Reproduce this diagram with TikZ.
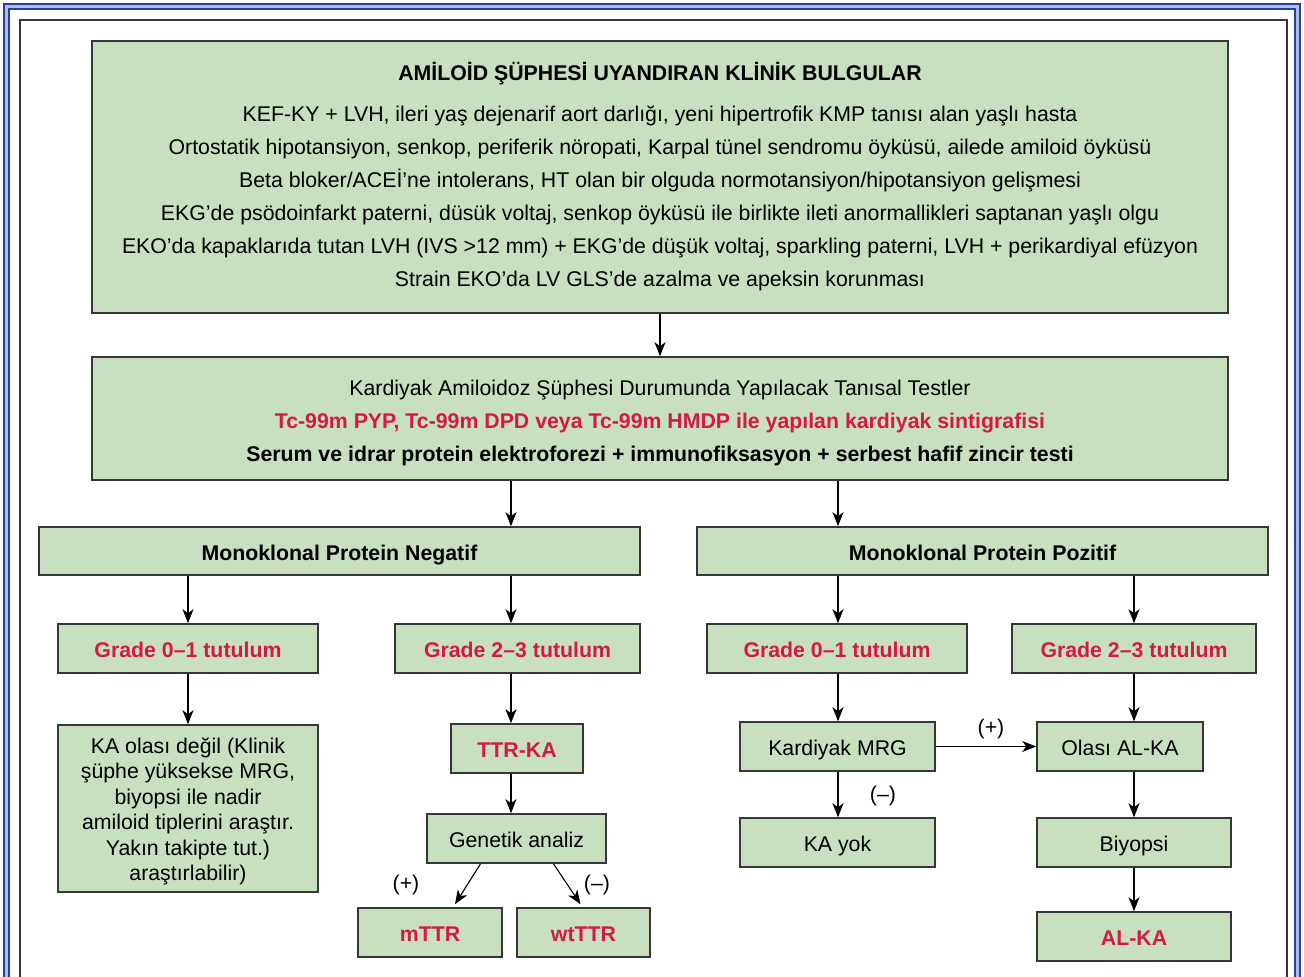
\documentclass[tikz,border=0pt]{standalone}
\usepackage{fontspec}
\setmainfont{Liberation Sans}
\usetikzlibrary{arrows.meta}

\definecolor{boxfill}{RGB}{200,224,192}
\definecolor{boxline}{RGB}{55,55,55}
\definecolor{alert}{RGB}{212,26,66}
\definecolor{frameblue}{RGB}{38,66,150}
\definecolor{framelight}{RGB}{175,192,230}

\tikzset{
  box/.style={draw=boxline, fill=boxfill, line width=1.6pt, inner sep=0pt, align=center,
    font=\fontsize{21.3}{25.4}\selectfont},
  oneline/.style={text height=18pt, text depth=0pt},
  hl/.style={text=alert, font=\fontsize{21.3}{25}\selectfont\bfseries},
  lbl/.style={inner sep=0pt, font=\fontsize{21.3}{25}\selectfont},
  arr/.style={-{Stealth[length=14pt,width=11pt,inset=4pt]}, line width=1.1pt, black}
}

\begin{document}
\begin{tikzpicture}[x=1pt,y=-1pt]
\useasboundingbox (0,0) rectangle (1304,977);
% frame
\draw[framelight, line width=4pt] (6.5,977) -- (6.5,6.5) -- (1297.5,6.5) -- (1297.5,977);
\draw[frameblue, line width=2.2pt] (4,977) -- (4,4) -- (1300,4) -- (1300,977);
\draw[frameblue, line width=1.3pt] (9,977) -- (9,9) -- (1295,9) -- (1295,977);
\draw[boxline, line width=1.3pt] (20,977) -- (20,20) -- (1287,20) -- (1287,977);

\node[box, minimum width=1136pt, minimum height=272pt, font=\fontsize{21.3}{33}\selectfont] (clinic) at (660,177)
  {\rule{0pt}{17.5pt}\textbf{AMİLOİD ŞÜPHESİ UYANDIRAN KLİNİK BULGULAR}\\[8pt]
   KEF-KY + LVH, ileri yaş dejenarif aort darlığı, yeni hipertrofik KMP tanısı alan yaşlı hasta\\
   Ortostatik hipotansiyon, senkop, periferik nöropati, Karpal tünel sendromu öyküsü, ailede amiloid öyküsü\\
   Beta bloker/ACEİ’ne intolerans, HT olan bir olguda normotansiyon/hipotansiyon gelişmesi\\
   EKG’de psödoinfarkt paterni, düsük voltaj, senkop öyküsü ile birlikte ileti anormallikleri saptanan yaşlı olgu\\
   EKO’da kapaklarıda tutan LVH (IVS >12 mm) + EKG’de düşük voltaj, sparkling paterni, LVH + perikardiyal efüzyon\\
   Strain EKO’da LV GLS’de azalma ve apeksin korunması};
\node[box, minimum width=1136pt, minimum height=123pt, font=\fontsize{21.3}{33}\selectfont] (tests) at (660,418.5)
  {\rule{0pt}{23.5pt}Kardiyak Amiloidoz Şüphesi Durumunda Yapılacak Tanısal Testler\\
   \textcolor{alert}{\bfseries Tc-99m PYP, Tc-99m DPD veya Tc-99m HMDP ile yapılan kardiyak sintigrafisi}\\
   \textbf{Serum ve idrar protein elektroforezi + immunofiksasyon + serbest hafif zincir testi}};

\node[box, oneline, minimum width=601pt, minimum height=48pt] (neg) at (339.5,551) {\textbf{Monoklonal Protein Negatif}};
\node[box, oneline, minimum width=571pt, minimum height=48pt] (pos) at (982.5,551) {\textbf{Monoklonal Protein Pozitif}};

\node[box, hl, oneline, minimum width=260pt, minimum height=49pt] (gnlow) at (188,648.5) {Grade 0–1 tutulum};
\node[box, hl, oneline, minimum width=245pt, minimum height=49pt] (gnhigh) at (517.5,648.5) {Grade 2–3 tutulum};
\node[box, hl, oneline, minimum width=260pt, minimum height=49pt] (gplow) at (837,648.5) {Grade 0–1 tutulum};
\node[box, hl, oneline, minimum width=244pt, minimum height=49pt] (gphigh) at (1134,648.5) {Grade 2–3 tutulum};

\node[box, minimum width=260pt, minimum height=167pt] (unlikely) at (188,808.5)
  {\rule{0pt}{21.5pt}KA olası değil (Klinik\\şüphe yüksekse MRG,\\biyopsi ile nadir\\amiloid tiplerini araştır.\\Yakın takipte tut.)\\araştırlabilir)};
\node[box, hl, oneline, minimum width=132pt, minimum height=49pt] (ttrka) at (517,748.5) {TTR-KA};
\node[box, oneline, minimum width=179pt, minimum height=49pt] (genetic) at (516.5,838.5) {Genetik analiz};
\node[box, hl, oneline, minimum width=144pt, minimum height=49pt] (mttr) at (430,932.5) {mTTR};
\node[box, hl, oneline, minimum width=133pt, minimum height=49pt] (wtttr) at (583.5,932.5) {wtTTR};

\node[box, oneline, minimum width=195pt, minimum height=49pt] (mrg) at (837.5,746.5) {Kardiyak MRG};
\node[box, oneline, minimum width=195pt, minimum height=49pt] (kayok) at (837.5,842.5) {KA yok};
\node[box, oneline, minimum width=166pt, minimum height=49pt] (olasi) at (1120,746.5) {Olası AL-KA};
\node[box, oneline, minimum width=194pt, minimum height=49pt] (biopsy) at (1134,842.5) {Biyopsi};
\node[box, hl, oneline, minimum width=194pt, minimum height=49pt] (alka) at (1134,936.5) {AL-KA};

\node[lbl] (plusgen) at (406,885) {(+)};
\node[lbl] (minusgen) at (597,885) {(–)};
\node[lbl] (plusmrg) at (991,729) {(+)};
\node[lbl] (minusmrg) at (883,796) {(–)};

% arrow columns
\coordinate (cola) at (188,0);
\coordinate (colb) at (511,0);
\coordinate (colc) at (838,0);
\coordinate (cold) at (1134,0);

\draw[arr] (clinic) -- (tests);
\draw[arr] (tests.south -| colb) -- (neg.north -| colb);
\draw[arr] (tests.south -| colc) -- (pos.north -| colc);
\draw[arr] (neg.south -| cola) -- (gnlow.north -| cola);
\draw[arr] (neg.south -| colb) -- (gnhigh.north -| colb);
\draw[arr] (pos.south -| colc) -- (gplow.north -| colc);
\draw[arr] (pos.south -| cold) -- (gphigh.north -| cold);
\draw[arr] (gnlow.south -| cola) -- (unlikely.north -| cola);
\draw[arr] (gnhigh.south -| colb) -- (ttrka.north -| colb);
\draw[arr] (ttrka.south -| colb) -- (genetic.north -| colb);
\draw[arr] ([xshift=-36pt]genetic.south) -- ([xshift=25pt,yshift=3pt]mttr.north);
\draw[arr] ([xshift=37pt]genetic.south) -- ([xshift=-3pt,yshift=3pt]wtttr.north);
\draw[arr] (gplow.south -| colc) -- (mrg.north -| colc);
\draw[arr] (mrg.south -| colc) -- (kayok.north -| colc);
\draw[arr] (mrg) -- (olasi);
\draw[arr] (gphigh.south -| cold) -- (olasi.north -| cold);
\draw[arr] (olasi.south -| cold) -- (biopsy.north -| cold);
\draw[arr] (biopsy) -- (alka);
\end{tikzpicture}
\end{document}
